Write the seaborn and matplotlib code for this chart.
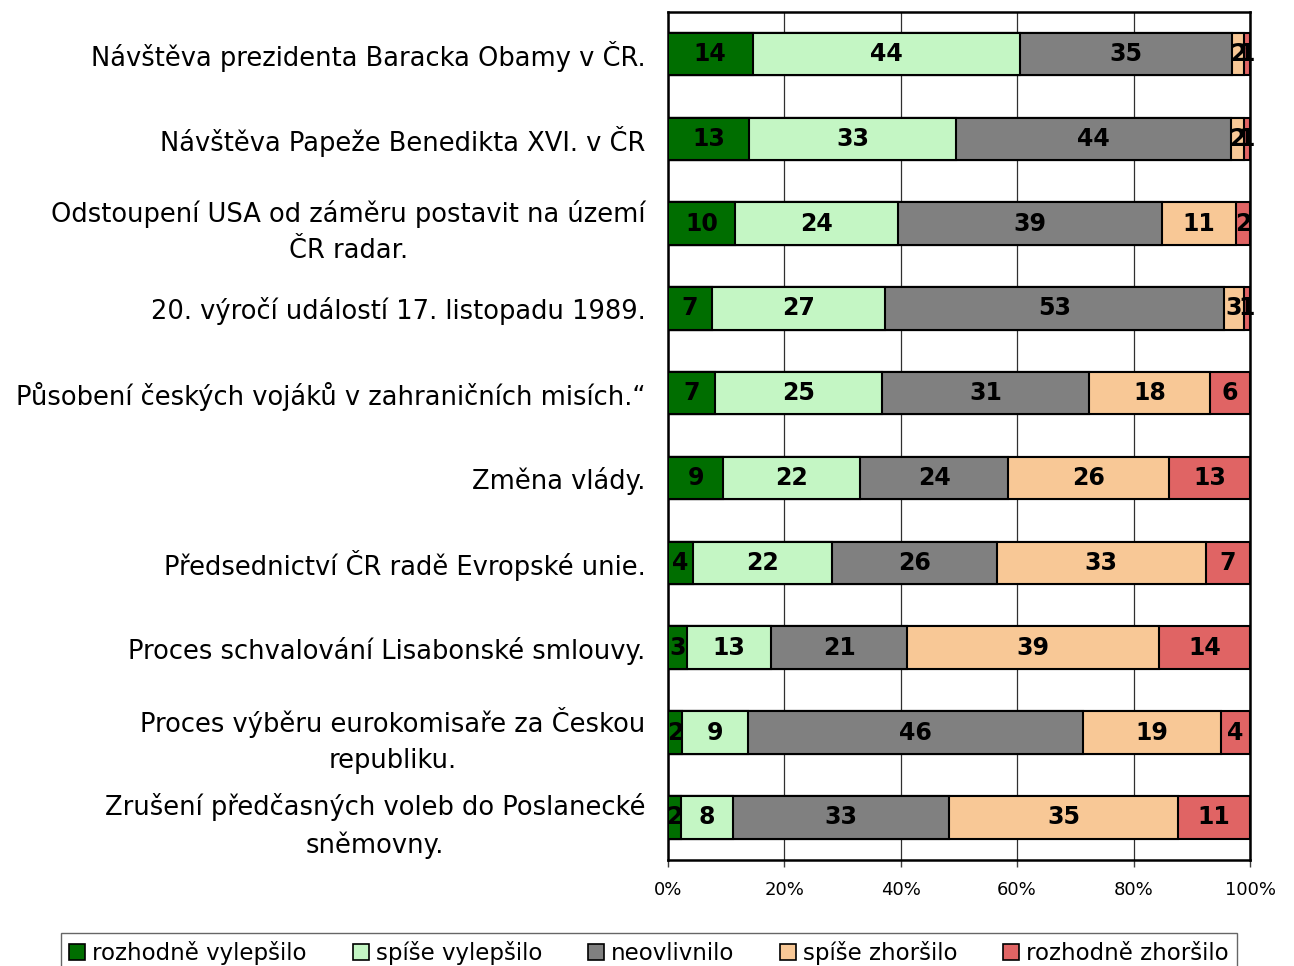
import numpy as np
import pandas as pd
import matplotlib
matplotlib.use("Agg")
import matplotlib.pyplot as plt
import seaborn as sns
from matplotlib.patches import Patch
from matplotlib.ticker import StrMethodFormatter

# 1. data (share of answers, %)
categories = [
    "Návštěva prezidenta Baracka Obamy v ČR.",
    "Návštěva Papeže Benedikta XVI. v ČR",
    "Odstoupení USA od záměru postavit na území\nČR radar.",
    "20. výročí událostí 17. listopadu 1989.",
    "Působení českých vojáků v zahraničních misích.“",
    "Změna vlády.",
    "Předsednictví ČR radě Evropské unie.",
    "Proces schvalování Lisabonské smlouvy.",
    "Proces výběru eurokomisaře za Českou\nrepubliku.",
    "Zrušení předčasných voleb do Poslanecké\nsněmovny.",
]
series_names = ["rozhodně vylepšilo", "spíše vylepšilo", "neovlivnilo",
                "spíše zhoršilo", "rozhodně zhoršilo"]
rozhodne_vylepsilo = [14, 13, 10, 7, 7, 9, 4, 3, 2, 2]
spise_vylepsilo = [44, 33, 24, 27, 25, 22, 22, 13, 9, 8]
neovlivnilo = [35, 44, 39, 53, 31, 24, 26, 21, 46, 33]
spise_zhorsilo = [2, 2, 11, 3, 18, 26, 33, 39, 19, 35]
rozhodne_zhorsilo = [1, 1, 2, 1, 6, 13, 7, 14, 4, 11]
colors = ["#006e00", "#c4f6c4", "#808080", "#f8c896", "#e06464"]

# 2. build 100% stacked table
df = pd.DataFrame({
    series_names[0]: rozhodne_vylepsilo,
    series_names[1]: spise_vylepsilo,
    series_names[2]: neovlivnilo,
    series_names[3]: spise_zhorsilo,
    series_names[4]: rozhodne_zhorsilo,
}, index=categories)
share = df.div(df.sum(axis=1), axis=0) * 100
cum = share.cumsum(axis=1)

sns.set_style("white")
plt.rcParams["font.family"] = ["DejaVu Sans"]
plt.rcParams["text.color"] = "black"
plt.rcParams["xtick.color"] = "black"
plt.rcParams["ytick.color"] = "black"

fig, ax = plt.subplots(figsize=(12.94, 9.66), dpi=100)
fig.subplots_adjust(left=0.516, right=0.966, top=0.988, bottom=0.110)

# 3. stacked bars: draw the cumulative totals from the widest down
for name, color in reversed(list(zip(series_names, colors))):
    sns.barplot(x=cum[name].values, y=categories, order=categories,
                color=color, saturation=1, width=0.5, edgecolor="black",
                linewidth=1.5, orient="h", ax=ax, zorder=3)

# 4. value labels in the middle of each segment
for i, cat in enumerate(categories):
    for name in series_names:
        ax.text(cum.loc[cat, name] - share.loc[cat, name] / 2, i,
                str(df.loc[cat, name]), ha="center", va="center",
                fontsize=17, fontweight="bold", color="black", zorder=5)

ax.set_xlim(0, 100)
ax.set_ylim(9.5, -0.5)
ax.set_xticks(range(0, 101, 20))
ax.xaxis.set_major_formatter(StrMethodFormatter("{x:.0f}%"))
ax.set_xlabel("")
ax.set_ylabel("")
ax.xaxis.grid(True, color="#303030", linewidth=0.9)
ax.yaxis.grid(False)
ax.set_axisbelow(True)
for sp in ax.spines.values():
    sp.set_visible(True)
    sp.set_color("black")
    sp.set_linewidth(1.8)

ax.tick_params(axis="y", length=0, pad=16, labelsize=18.5, labelcolor="black")
ax.tick_params(axis="x", direction="out", length=5, width=1, color="#404040",
               labelsize=13, pad=10, bottom=True, labelcolor="black")
for lbl in ax.get_yticklabels():
    lbl.set_multialignment("center")
    lbl.set_linespacing(1.5)

# 5. legend along the bottom
handles = [Patch(facecolor=c, edgecolor="black", linewidth=1.2) for c in colors]
leg = fig.legend(handles, series_names, loc="upper center",
                 bbox_to_anchor=(649 / 1294, 1 - 933 / 966),
                 ncol=5, frameon=True, fontsize=16.5,
                 handlelength=0.7, handleheight=0.7, handletextpad=0.3,
                 columnspacing=2.0, borderaxespad=0, fancybox=False,
                 borderpad=0.35)
leg.get_frame().set_edgecolor("#404040")
leg.get_frame().set_linewidth(1)

fig.savefig("out.png", dpi=100)
